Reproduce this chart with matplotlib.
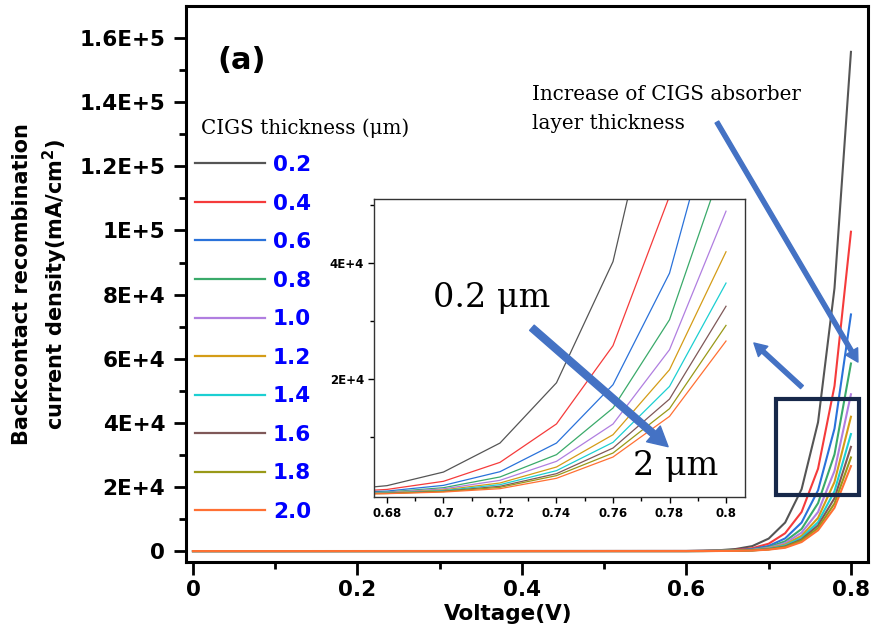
import matplotlib
matplotlib.use("Agg")
import matplotlib.pyplot as plt
from matplotlib.patches import FancyArrowPatch, Rectangle
from matplotlib.lines import Line2D
from matplotlib.font_manager import FontProperties

# back contact recombination current vs voltage, per CIGS thickness
voltage = [0.0, 0.60, 0.62, 0.64, 0.66, 0.68, 0.70, 0.72, 0.74, 0.76, 0.78, 0.80]
thickness = ['0.2', '0.4', '0.6', '0.8', '1.0', '1.2', '1.4', '1.6', '1.8', '2.0']
j_02 = [0, 45, 110, 270, 650, 1550, 3900, 8900, 19300, 40200, 82000, 155700]
j_04 = [0, 25, 65, 160, 380, 900, 2300, 5570, 12200, 25700, 51500, 99600]
j_06 = [0, 17, 45, 110, 260, 620, 1600, 3960, 8900, 18960, 38200, 73800]
j_08 = [0, 12, 32, 80, 190, 450, 1200, 3050, 6900, 14940, 30170, 58500]
j_10 = [0, 10, 26, 65, 155, 370, 1000, 2470, 5750, 12180, 25000, 48900]
j_12 = [0, 8, 21, 53, 125, 300, 820, 2010, 4770, 10340, 21550, 41900]
j_14 = [0, 7, 18, 45, 108, 260, 700, 1720, 4140, 9020, 18670, 36500]
j_16 = [0, 6, 15, 38, 92, 220, 600, 1440, 3620, 8040, 16490, 32500]
j_18 = [0, 5, 14, 35, 84, 200, 530, 1260, 3280, 7180, 14830, 29200]
j_20 = [0, 4, 12, 29, 70, 170, 450, 1030, 2820, 6490, 13500, 26500]
currents = [j_02, j_04, j_06, j_08, j_10, j_12, j_14, j_16, j_18, j_20]

colors = ['#555555', '#f53b3b', '#2a72da', '#3aaa6a', '#b07ee0',
          '#d49c17', '#1ccfd2', '#7f5858', '#999918', '#ff7033']

y_ticks = [0, 2e4, 4e4, 6e4, 8e4, 1e5, 1.2e5, 1.4e5, 1.6e5]
y_ticklabels = ['0', '2E+4', '4E+4', '6E+4', '8E+4', '1E+5', '1.2E+5', '1.4E+5', '1.6E+5']
x_ticks = [0, 0.2, 0.4, 0.6, 0.8]
x_ticklabels = ['0', '0.2', '0.4', '0.6', '0.8']
in_x_ticks = [0.68, 0.70, 0.72, 0.74, 0.76, 0.78, 0.80]
in_x_ticklabels = ['0.68', '0.7', '0.72', '0.74', '0.76', '0.78', '0.8']
in_y_ticks = [2e4, 4e4]
in_y_ticklabels = ['2E+4', '4E+4']

arrow_blue = '#4472c4'
serif = 'DejaVu Serif'

fig = plt.figure(figsize=(8.82, 6.33), dpi=100)
ax = fig.add_axes([0.2109, 0.1122, 0.7732, 0.8783])

for j, c in zip(currents, colors):
    ax.plot(voltage, j, color=c, lw=1.5)

ax.set_xlim(-0.0085, 0.8207)
ax.set_ylim(-3400, 170000)
ax.set_xticks(x_ticks)
ax.set_xticklabels(x_ticklabels)
ax.set_xticks([0.1, 0.3, 0.5, 0.7], minor=True)
ax.set_yticks(y_ticks)
ax.set_yticklabels(y_ticklabels)
ax.set_yticks([1e4 + 2e4 * i for i in range(8)], minor=True)
ax.tick_params(which='major', length=9, width=2, labelsize=15.5, pad=4)
ax.tick_params(axis='y', which='major', pad=6)
ax.tick_params(which='minor', length=5, width=2)
for lab in ax.get_xticklabels() + ax.get_yticklabels():
    lab.set_fontweight('bold')
for sp in ax.spines.values():
    sp.set_linewidth(2.2)

ax.set_xlabel('Voltage(V)', fontsize=15.5, fontweight='bold')
ax.xaxis.set_label_coords(0.472, -0.076)
fig.text(22 / 882, 1 - 284 / 633, 'Backcontact recombination', rotation=90,
         ha='center', va='center', fontsize=15, fontweight='bold')
fig.text(55 / 882, 1 - 284 / 633, r'current density(mA/cm$^{\mathbf{2}}$)', rotation=90,
         ha='center', va='center', fontsize=15, fontweight='bold')

ax.text(0.03, 153000, '(a)', fontsize=22, fontweight='bold', va='center', ha='left')
ax.text(0.412, 145500, 'Increase of CIGS absorber\nlayer thickness', family=serif,
        fontsize=14.3, va='top', ha='left', linespacing=1.72)

# legend
fig.text(201 / 882, 1 - 128 / 633, 'CIGS thickness (\u03bcm)', family=serif, fontsize=14.3,
         ha='left', va='center')
handles = [Line2D([], [], color=c, lw=1.6) for c in colors]
ax.legend(handles, thickness, loc='upper left', bbox_to_anchor=(195 / 882, 1 - 155 / 633),
          bbox_transform=fig.transFigure, frameon=False, labelcolor='blue',
          prop=FontProperties(weight='bold', size=15.5), handlelength=3.25,
          handletextpad=0.37, labelspacing=0.86, borderpad=0, borderaxespad=0)

# highlight box + arrows on main axes
ax.add_patch(Rectangle((0.709, 17500), 0.101, 29900, fill=False, ec='#17284a', lw=3, zorder=5))
ax.add_patch(FancyArrowPatch((0.637, 133800), (0.8085, 58950), mutation_scale=10,
                             arrowstyle='simple,head_width=1.0,head_length=0.9,tail_width=0.3',
                             color=arrow_blue, shrinkA=0, shrinkB=0, zorder=6))
ax.add_patch(FancyArrowPatch((0.7404, 51150), (0.682, 64900), mutation_scale=10,
                             arrowstyle='simple,head_width=1.0,head_length=0.9,tail_width=0.3',
                             color=arrow_blue, shrinkA=0, shrinkB=0, zorder=6))

# inset zoom
axi = fig.add_axes([0.424, 0.2149, 0.4206, 0.4707])
for j, c in zip(currents, colors):
    axi.plot(voltage, j, color=c, lw=0.9)
axi.set_xlim(0.6754, 0.8067)
axi.set_ylim(-400, 51000)
axi.set_xticks(in_x_ticks)
axi.set_xticklabels(in_x_ticklabels)
axi.set_xticks([0.69, 0.71, 0.73, 0.75, 0.77, 0.79], minor=True)
axi.set_yticks(in_y_ticks)
axi.set_yticklabels(in_y_ticklabels)
axi.set_yticks([1e4, 3e4, 5e4], minor=True)
axi.tick_params(which='major', length=4, width=1, labelsize=8.5, pad=3)
axi.tick_params(which='minor', length=3, width=1)
for lab in axi.get_xticklabels() + axi.get_yticklabels():
    lab.set_fontweight('bold')
for sp in axi.spines.values():
    sp.set_linewidth(1)
    sp.set_color('#333333')

axi.text(0.7172, 33960, '0.2 \u03bcm', family=serif, fontsize=24, ha='center', va='center')
axi.text(0.7823, 5000, '2 \u03bcm', family=serif, fontsize=24, ha='center', va='center')
axi.add_patch(FancyArrowPatch((0.7313, 28790), (0.7795, 8275), mutation_scale=10,
                              arrowstyle='simple,head_width=1.5,head_length=1.4,tail_width=0.5',
                              color=arrow_blue, shrinkA=0, shrinkB=0, zorder=6))

fig.savefig('out.png', dpi=100)
